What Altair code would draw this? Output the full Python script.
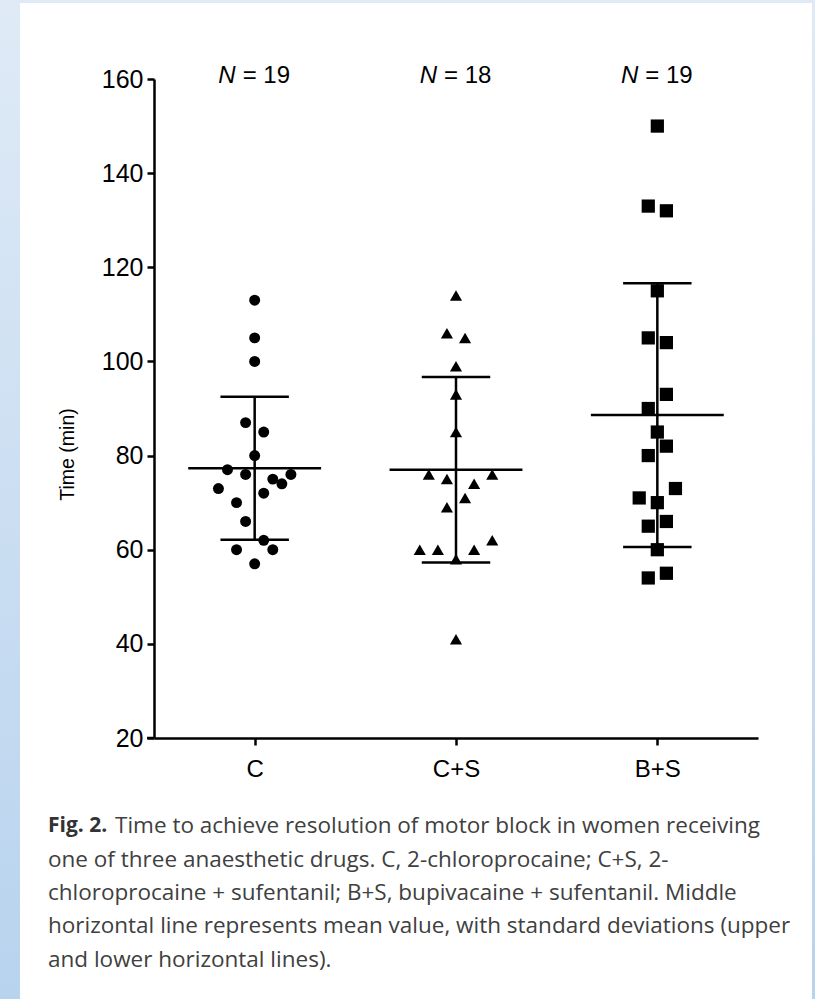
import altair as alt
import pandas as pd

# ---------------- data ----------------
groups = ["C", "C+S", "B+S"]
group_n = [19, 18, 19]

c_values = [113, 105, 100, 87, 85, 80, 77, 76, 76, 75, 74, 73, 72, 70, 66, 62, 60, 60, 57]
c_slots = [0, 0, 0, -1, 1, 0, -3, -1, 4, 2, 3, -4, 1, -2, -1, 1, -2, 2, 0]

cs_values = [114, 106, 105, 99, 93, 85, 76, 76, 75, 74, 71, 69, 62, 60, 60, 60, 58, 41]
cs_slots = [0, -1, 1, 0, 0, 0, -3, 4, -1, 2, 1, -1, 4, -4, -2, 2, 0, 0]

bs_values = [150, 133, 132, 115, 105, 104, 93, 90, 85, 82, 80, 73, 71, 70, 66, 65, 60, 55, 54]
bs_slots = [0, -1, 1, 0, -1, 1, 1, -1, 0, 1, -1, 2, -2, 0, 1, -1, 0, 1, -1]

means = [77.3, 77.0, 88.6]
sds = [15.2, 19.7, 28.0]

y_ticks = [20, 40, 60, 80, 100, 120, 140, 160]

caption_bold = "Fig. 2."
caption_lines = [
    "Time to achieve resolution of motor block in women receiving",
    "one of three anaesthetic drugs. C, 2-chloroprocaine; C+S, 2-",
    "chloroprocaine + sufentanil; B+S, bupivacaine + sufentanil. Middle",
    "horizontal line represents mean value, with standard deviations (upper",
    "and lower horizontal lines).",
]

# ---------------- tables ----------------
rows = []
for gi, (vals, slots) in enumerate([(c_values, c_slots), (cs_values, cs_slots), (bs_values, bs_slots)]):
    for v, s in zip(vals, slots):
        rows.append({"group": groups[gi], "gx": gi + 1, "slot": s, "time": v})
points = pd.DataFrame(rows)

stats = pd.DataFrame({"group": groups, "gx": [1, 2, 3], "mean": means, "sd": sds, "n": group_n})
one = pd.DataFrame({"k": [0]})

FONT = "Liberation Sans"
FS = 24
LW = 2.5

xs = alt.Scale(domain=[0.5, 3.5], nice=False, zero=False)
ys = alt.Scale(domain=[20, 160], nice=False, zero=False)
label_expr = "[" + ",".join("'" + g + "'" for g in groups) + "][datum.value - 1]"
xaxis = alt.Axis(values=[1, 2, 3], labelExpr=label_expr, title=None, grid=False,
                 domainColor="black", domainWidth=LW, tickColor="black", tickWidth=LW,
                 tickSize=7, labelFont=FONT, labelFontSize=FS, labelColor="black",
                 labelPadding=12, zindex=1)
yaxis = alt.Axis(values=y_ticks, title="Time (min)", grid=False,
                 domainColor="black", domainWidth=LW, tickColor="black", tickWidth=LW,
                 tickSize=7, labelFont=FONT, labelFontSize=25, labelColor="black",
                 labelPadding=4, titleFont=FONT, titleFontSize=19.5, titleFontWeight="normal",
                 titleColor="black", titlePadding=24, titleY=375, zindex=1)


def X(field):
    return alt.X(field, scale=xs, axis=xaxis)


def Y(field):
    return alt.Y(field, scale=ys, axis=yaxis)


# ---------------- background decorations ----------------
bg = alt.Chart(one).mark_rect(
    fill=alt.Gradient(gradient="linear", x1=0, y1=0, x2=0, y2=1,
                      stops=[alt.GradientStop(color="#dfeaf6", offset=0),
                             alt.GradientStop(color="#b8d3ee", offset=1)])
).encode(x=alt.value(-154), x2=alt.value(661), y=alt.value(-79), y2=alt.value(920))

card = alt.Chart(one).mark_rect(fill="white").encode(
    x=alt.value(-134), x2=alt.value(658), y=alt.value(-76), y2=alt.value(920))

# small overhang of the x-axis line to the left of the y-axis
overhang = alt.Chart(one).mark_rule(color="black", strokeWidth=LW).encode(
    x=alt.value(-7), x2=alt.value(0), y=alt.value(659))

# ---------------- data marks ----------------
pts = alt.Chart(points).transform_calculate(
    px="datum.gx + datum.slot * 0.045"
).mark_point(filled=True, opacity=1, color="black").encode(
    x=X("px:Q"),
    y=Y("time:Q"),
    shape=alt.Shape("group:N", scale=alt.Scale(domain=groups, range=["circle", "triangle-up", "square"]), legend=None),
    size=alt.Size("group:N", scale=alt.Scale(domain=groups, range=[120, 175, 145]), legend=None),
)

mean_rule = alt.Chart(stats).transform_calculate(
    xa="datum.gx - 0.33", xb="datum.gx + 0.33"
).mark_rule(color="black", strokeWidth=LW).encode(x=X("xa:Q"), x2="xb:Q", y=Y("mean:Q"))

sd_hi = alt.Chart(stats).transform_calculate(
    xa="datum.gx - 0.17", xb="datum.gx + 0.17", hi="datum.mean + datum.sd"
).mark_rule(color="black", strokeWidth=LW).encode(x=X("xa:Q"), x2="xb:Q", y=Y("hi:Q"))

sd_lo = alt.Chart(stats).transform_calculate(
    xa="datum.gx - 0.17", xb="datum.gx + 0.17", lo="datum.mean - datum.sd"
).mark_rule(color="black", strokeWidth=LW).encode(x=X("xa:Q"), x2="xb:Q", y=Y("lo:Q"))

sd_v = alt.Chart(stats).transform_calculate(
    lo="datum.mean - datum.sd", hi="datum.mean + datum.sd"
).mark_rule(color="black", strokeWidth=LW).encode(x=X("gx:Q"), y=Y("lo:Q"), y2="hi:Q")

n_italic = alt.Chart(stats).mark_text(
    text="N", font=FONT, fontSize=FS, fontStyle="italic", align="right", baseline="middle",
    dx=-19, color="black"
).encode(x=X("gx:Q"), y=alt.value(-3))

n_rest = alt.Chart(stats).transform_calculate(
    lab="'= ' + datum.n"
).mark_text(font=FONT, fontSize=FS, align="left", baseline="middle", dx=-12, color="black").encode(
    x=X("gx:Q"), y=alt.value(-3), text="lab:N")

# ---------------- caption ----------------
CAP_FONT = "Open Sans"
CAP_FS = 22.5
cap_layers = [
    alt.Chart(one).mark_text(text=caption_bold, font=CAP_FONT, fontSize=21, fontWeight="bold",
                             align="left", baseline="middle", color="#333333").encode(
        x=alt.value(-106), y=alt.value(747))
]
line_y = [747, 781, 814, 847, 881]
for i, (txt, yy) in enumerate(zip(caption_lines, line_y)):
    cap_layers.append(
        alt.Chart(one).mark_text(text=txt, font=CAP_FONT, fontSize=CAP_FS, align="left",
                                 baseline="middle", color="#404040").encode(
            x=alt.value(-39 if i == 0 else -106), y=alt.value(yy))
    )

chart = alt.layer(
    bg, card, overhang, mean_rule, sd_hi, sd_lo, sd_v, pts, n_italic, n_rest, *cap_layers
).properties(
    width=604, height=659,
    autosize=alt.AutoSizeParams(type="none"),
    padding={"left": 154, "top": 79, "right": 57, "bottom": 261},
).configure_view(stroke=None).configure(background="#dde9f6")

chart.save("out.html", embed_options={"renderer": "svg", "actions": False})
